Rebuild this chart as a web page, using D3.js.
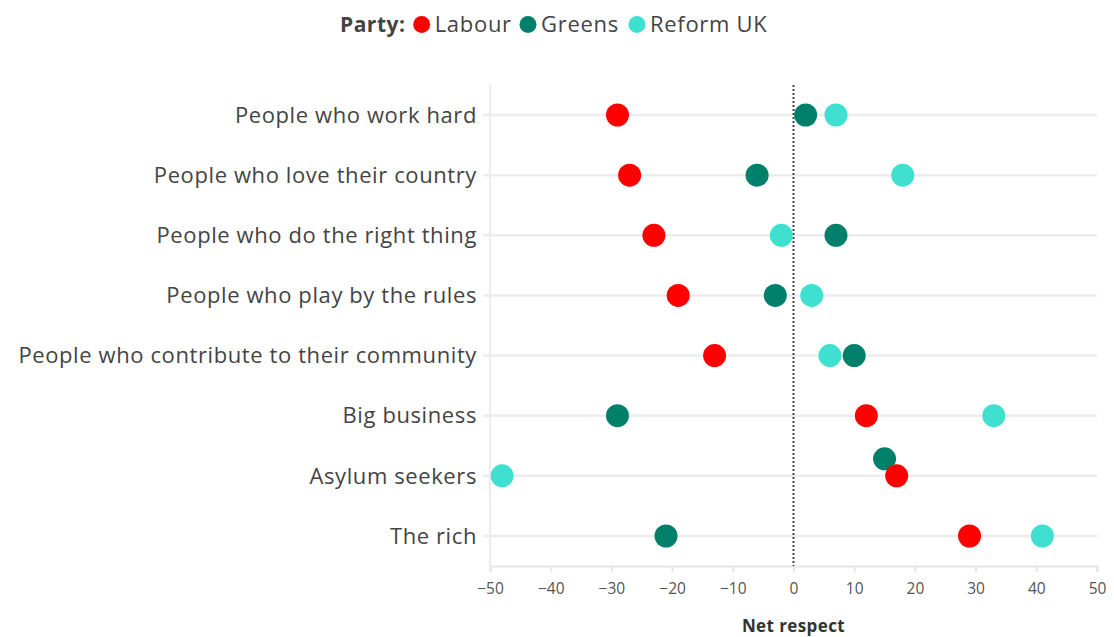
<!DOCTYPE html>
<html><head><meta charset="utf-8">
<script src="https://cdn.jsdelivr.net/npm/d3@7"></script>
<style>body{margin:0;background:#fff;font-family:"Open Sans",sans-serif;}</style>
</head><body><svg id="c" width="1114" height="637"></svg>
<script>
const categories = ["People who work hard","People who love their country","People who do the right thing","People who play by the rules","People who contribute to their community","Big business","Asylum seekers","The rich"];
const labourValues = [-29,-27,-23,-19,-13,12,17,29];
const greensValues = [2,-6,7,-3,10,-29,15,-21];
const reformValues = [7,18,-2,3,6,33,-48,41];
const xTicks = [-50,-40,-30,-20,-10,0,10,20,30,40,50];
const legendOrder = ["Labour","Greens","Reform UK"];
const drawOrder = ["Reform UK","Greens","Labour"];
const colors = {"Labour":"#ff0000","Greens":"#00806a","Reform UK":"#40e0d0"};
const seriesValues = {"Labour":labourValues,"Greens":greensValues,"Reform UK":reformValues};

const FONT = "'Open Sans',sans-serif";
const svg = d3.select("#c").style("font-family",FONT);
const x = d3.scaleLinear().domain([-50,50]).range([490,1097]);
const y = d3.scalePoint().domain(categories).range([115,536]);
const r = 11.5;

// grid lines
svg.append("g").selectAll("line").data(categories).join("line")
  .attr("x1",483).attr("x2",1097).attr("y1",d=>y(d)).attr("y2",d=>y(d))
  .attr("stroke","#ececec").attr("stroke-width",2.5);
// left axis line
svg.append("line").attr("x1",490).attr("x2",490).attr("y1",85).attr("y2",566)
  .attr("stroke","#ececec").attr("stroke-width",2);

// x axis
const xAxis = svg.append("g").attr("transform","translate(0,566)")
  .call(d3.axisBottom(x).tickValues(xTicks).tickSize(6).tickFormat(d3.format("d")));
xAxis.select(".domain").attr("stroke","#e6e6e6").attr("stroke-width",2);
xAxis.selectAll(".tick line").attr("stroke","#e6e6e6").attr("stroke-width",2);
xAxis.selectAll("text").attr("fill","#555").attr("font-size",15.5).attr("font-family",FONT).attr("dy","1.2em");

// y labels
svg.append("g").selectAll("text").data(categories).join("text")
  .attr("x",477).attr("y",d=>y(d)).attr("dy","0.35em").attr("text-anchor","end")
  .attr("fill","#444").attr("font-size",22).attr("letter-spacing",0.6).text(d=>d);

// zero line
svg.append("line").attr("x1",x(0)).attr("x2",x(0)).attr("y1",85).attr("y2",566)
  .attr("stroke","#444").attr("stroke-width",2).attr("stroke-dasharray","2,2");

// points with simple dodge for overlaps
const pts = [];
categories.forEach((c,i)=>{
  drawOrder.forEach(p=>pts.push({cat:c,party:p,v:seriesValues[p][i],dy:0}));
});
categories.forEach(c=>{
  const g = pts.find(d=>d.cat===c&&d.party==="Greens");
  const l = pts.find(d=>d.cat===c&&d.party==="Labour");
  if (Math.abs(x(g.v)-x(l.v)) < 2*r) g.dy = -17;
});
svg.append("g").selectAll("circle").data(pts).join("circle")
  .attr("cx",d=>x(d.v)).attr("cy",d=>y(d.cat)+d.dy).attr("r",r)
  .attr("fill",d=>colors[d.party]);

// x title
svg.append("text").attr("x",x(0)).attr("y",632).attr("text-anchor","middle")
  .attr("font-weight","bold").attr("font-size",17).attr("letter-spacing",0.4).attr("fill","#333").text("Net respect");

// legend
const lg = svg.append("g");
lg.append("text").attr("x",340).attr("y",32).attr("font-weight","bold").attr("font-size",21).attr("letter-spacing",0.5).attr("fill","#444").text("Party:");
const legendPos = [421.7,528,637];
legendOrder.forEach((p,i)=>{
  lg.append("circle").attr("cx",legendPos[i]).attr("cy",24.5).attr("r",8.5).attr("fill",colors[p]);
  lg.append("text").attr("x",legendPos[i]+13).attr("y",32).attr("font-size",22).attr("letter-spacing",0.7).attr("fill","#444").text(p);
});
</script></body></html>
